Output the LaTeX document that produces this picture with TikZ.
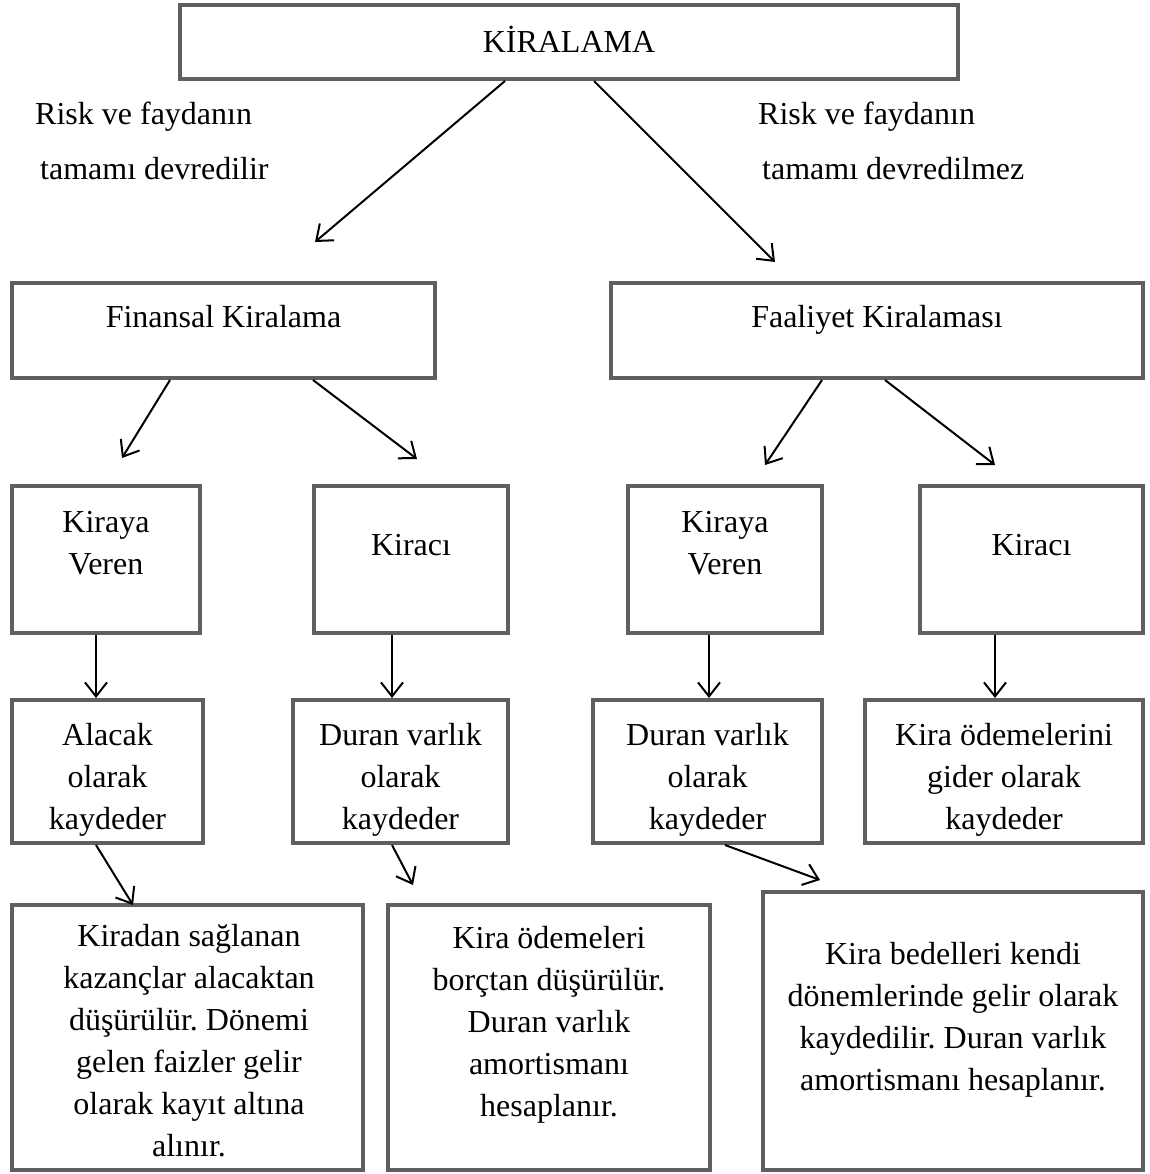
\documentclass[tikz,border=0pt]{standalone}
\usepackage{fontspec}
\setmainfont{Liberation Serif}
\usetikzlibrary{arrows.meta}
\definecolor{boxgray}{HTML}{5F5F5F}
\frenchspacing
\begin{document}
\begin{tikzpicture}[x=1pt,y=-1pt,
  box/.style={draw=boxgray, line width=4pt, rectangle, inner sep=0pt},
  txt/.style={font=\fontsize{32}{42}\selectfont, align=center, inner sep=0pt},
  arr/.style={line width=2pt, -{Straight Barb[length=14pt,width=22pt]}}]
\useasboundingbox (0,0) rectangle (1149,1174);
% boxes
\node[box, minimum width=778pt, minimum height=74pt] (kir) at (569,42) {};
\node[box, minimum width=423pt, minimum height=95pt] (fin) at (223.5,330.5) {};
\node[box, minimum width=532pt, minimum height=95pt] (faa) at (877,330.5) {};
\node[box, minimum width=188pt, minimum height=147pt] (kv1) at (106,559.5) {};
\node[box, minimum width=194pt, minimum height=147pt] (kc1) at (411,559.5) {};
\node[box, minimum width=194pt, minimum height=147pt] (kv2) at (725,559.5) {};
\node[box, minimum width=223pt, minimum height=147pt] (kc2) at (1031.5,559.5) {};
\node[box, minimum width=191pt, minimum height=143pt] (ala) at (107.5,771.5) {};
\node[box, minimum width=215pt, minimum height=143pt] (dv1) at (400.5,771.5) {};
\node[box, minimum width=229pt, minimum height=143pt] (dv2) at (707.5,771.5) {};
\node[box, minimum width=278pt, minimum height=143pt] (kod) at (1004,771.5) {};
\node[box, minimum width=351pt, minimum height=265pt] (kaz) at (187.5,1037.5) {};
\node[box, minimum width=322pt, minimum height=265pt] (bor) at (549,1037.5) {};
\node[box, minimum width=380pt, minimum height=278pt] (bed) at (953,1031) {};
% texts
\node[txt, anchor=base] (tkir) at (569,53) {KİRALAMA};
\node[txt, anchor=base west] (rl1) at (35,125) {Risk ve faydanın};
\node[txt, anchor=base west] (rl2) at (40,180) {tamamı devredilir};
\node[txt, anchor=base west] (rr1) at (758,125) {Risk ve faydanın};
\node[txt, anchor=base west] (rr2) at (762,180) {tamamı devredilmez};
\node[txt, anchor=base] (tfin) at (223.5,327) {Finansal Kiralama};
\node[txt, anchor=base] (tfaa) at (877,327) {Faaliyet Kiralaması};
\node[txt] (tkv1) at (106,543.5) {Kiraya\\Veren};
\node[txt, anchor=base] (tkc1) at (411,555) {Kiracı};
\node[txt] (tkv2) at (725,543.5) {Kiraya\\Veren};
\node[txt, anchor=base] (tkc2) at (1031.5,555) {Kiracı};
\node[txt] (tala) at (107.5,780) {Alacak\\olarak\\kaydeder};
\node[txt] (tdv1) at (400.5,780) {Duran varlık\\olarak\\kaydeder};
\node[txt] (tdv2) at (707.5,780) {Duran varlık\\olarak\\kaydeder};
\node[txt] (tkod) at (1004,780) {Kira ödemelerini\\gider olarak\\kaydeder};
\node[txt] (tkaz) at (189,1040.5) {Kiradan sağlanan\\kazançlar alacaktan\\düşürülür. Dönemi\\gelen faizler gelir\\olarak kayıt altına\\alınır.};
\node[txt] (tbor) at (549,1024.5) {Kira ödemeleri\\borçtan düşürülür.\\Duran varlık\\amortismanı\\hesaplanır.};
\node[txt] (tbed) at (953,1020) {Kira bedelleri kendi\\dönemlerinde gelir olarak\\kaydedilir. Duran varlık\\amortismanı hesaplanır.};
% arrow tips
\coordinate (e1) at (315,242);
\coordinate (e2) at (775,262);
\coordinate (e3) at (122,458);
\coordinate (e4) at (417,459);
\coordinate (e5) at (765,465);
\coordinate (e6) at (995,465);
\coordinate (e11) at (133,905);
\coordinate (e12) at (413,885);
\coordinate (e13) at (820,880);
% connectors
\draw[arr] (505,0 |- kir.south) -- (e1);
\draw[arr] (594,0 |- kir.south) -- (e2);
\draw[arr] (170,0 |- fin.south) -- (e3);
\draw[arr] (313,0 |- fin.south) -- (e4);
\draw[arr] (822,0 |- faa.south) -- (e5);
\draw[arr] (885,0 |- faa.south) -- (e6);
\draw[arr] (96,0 |- kv1.south) -- (96,0 |- ala.north);
\draw[arr] (392,0 |- kc1.south) -- (392,0 |- dv1.north);
\draw[arr] (709,0 |- kv2.south) -- (709,0 |- dv2.north);
\draw[arr] (995,0 |- kc2.south) -- (995,0 |- kod.north);
\draw[arr] (96,0 |- ala.south) -- (e11);
\draw[arr] (392,0 |- dv1.south) -- (e12);
\draw[arr] (725,0 |- dv2.south) -- (e13);
\end{tikzpicture}
\end{document}
